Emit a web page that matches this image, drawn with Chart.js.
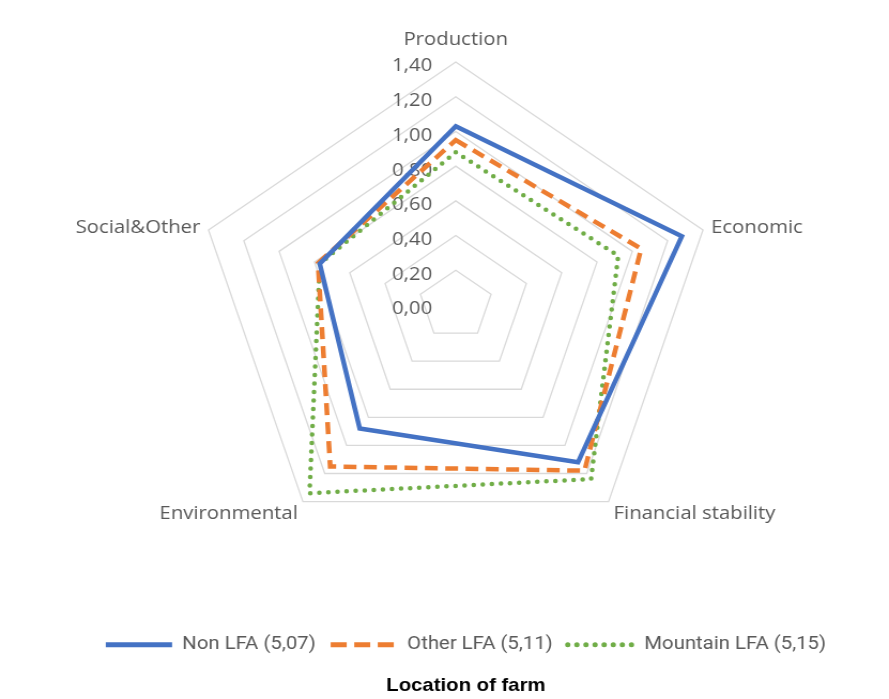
<!DOCTYPE html>
<html>
<head>
<meta charset="utf-8">
<script src="https://cdn.jsdelivr.net/npm/chart.js@4.4.1/dist/chart.umd.min.js"></script>
<style>
  html, body { margin: 0; padding: 0; background: #fff; }
  #myChart { display: block; }
</style>
</head>
<body>
<canvas id="myChart" width="831" height="699" style="width:889px;height:699px"></canvas>
<script>
// Data
var categories = ['Production', 'Economic', 'Financial stability', 'Environmental', 'Social&Other'];
var seriesNames = ['Non LFA (5,07)', 'Other LFA (5,11)', 'Mountain LFA (5,15)'];
var nonLFA = [1.03, 1.28, 1.12, 0.88, 0.77];
var otherLFA = [0.95, 1.05, 1.18, 1.15, 0.78];
var mountainLFA = [0.88, 0.92, 1.24, 1.34, 0.77];
var tickValues = [0, 0.2, 0.4, 0.6, 0.8, 1.0, 1.2, 1.4];

// canvas is drawn 831 wide and stretched to 889, like the original picture
var CX = 426, CY = 305, RADIUS = 243;
var textColor = '#595959';
var labelFont = '19px "Open Sans"';
// dash used for the legend samples (a bit longer than on the chart lines)
var legendDash = [[], [15, 7], [0, 8.5]];

// tick labels sit left of the vertical axis, like Excel does
var tickText = {
  id: 'tickText',
  beforeDatasetsDraw: function(chart) {
    var s = chart.scales.r;
    var ctx = chart.ctx;
    ctx.save();
    ctx.font = labelFont;
    ctx.fillStyle = textColor;
    ctx.textAlign = 'right';
    ctx.textBaseline = 'middle';
    tickValues.forEach(function(v) {
      var p = s.getPointPositionForValue(0, v);
      ctx.fillText(v.toFixed(2).replace('.', ','), p.x - 22, p.y + 4);
    });
    ctx.restore();
  },
  afterDraw: function(chart) {
    var s = chart.scales.r;
    var ctx = chart.ctx;
    ctx.save();
    ctx.font = labelFont;
    ctx.fillStyle = textColor;
    ctx.textBaseline = 'middle';
    categories.forEach(function(c, i) {
      var p = s.getPointPosition(i, s.drawingArea + 8);
      var dx = p.x - s.xCenter, dy = p.y - s.yCenter;
      ctx.textAlign = Math.abs(dx) < 1 ? 'center' : (dx > 0 ? 'left' : 'right');
      var y = p.y;
      if (dy < -s.drawingArea) y -= 14;
      else if (dy > 0) y += 6;
      ctx.fillText(c, p.x, y);
    });
    ctx.restore();
  }
};

var ctx = document.getElementById('myChart').getContext('2d');
var myChart = new Chart(ctx, {
  type: 'radar',
  data: {
    labels: categories,
    datasets: [
      {
        label: seriesNames[0],
        data: nonLFA,
        borderColor: '#4472C4',
        borderWidth: 4.5,
        borderJoinStyle: 'miter',
        fill: false
      },
      {
        label: seriesNames[1],
        data: otherLFA,
        borderColor: '#ED7D31',
        borderWidth: 4.5,
        borderDash: [12, 7],
        borderCapStyle: 'butt',
        fill: false
      },
      {
        label: seriesNames[2],
        data: mountainLFA,
        borderColor: '#70AD47',
        borderWidth: 4.5,
        borderDash: [0, 8.5],
        borderCapStyle: 'round',
        fill: false
      }
    ]
  },
  options: {
    responsive: false,
    animation: false,
    elements: {
      line: { tension: 0 },
      point: { radius: 0, hoverRadius: 0 }
    },
    layout: { padding: { left: 40, right: 0, top: 10, bottom: 0 } },
    scales: {
      r: {
        min: 0,
        max: 1.4,
        ticks: { stepSize: 0.2, display: false },
        grid: { color: '#D9D9D9', lineWidth: 1.3 },
        angleLines: { display: false },
        pointLabels: { display: false },
        afterFit: function(s) {
          s.xCenter = CX;
          s.yCenter = CY;
          s.drawingArea = RADIUS;
        }
      }
    },
    plugins: {
      legend: {
        position: 'bottom',
        labels: {
          usePointStyle: true,
          pointStyle: 'line',
          pointStyleWidth: 62,
          padding: 14,
          color: textColor,
          font: { family: 'Roboto', size: 19 },
          // point style legend items lose the dash, take it from the dataset
          generateLabels: function(chart) {
            var items = Chart.defaults.plugins.legend.labels.generateLabels(chart);
            items.forEach(function(it) {
              var ds = chart.data.datasets[it.datasetIndex];
              it.lineDash = legendDash[it.datasetIndex];
              it.lineCap = ds.borderCapStyle || 'butt';
              it.lineWidth = 5;
              it.strokeStyle = ds.borderColor;
            });
            return items;
          }
        }
      },
      title: {
        display: true,
        position: 'bottom',
        text: 'Location of farm',
        color: '#000',
        font: { family: 'Liberation Sans', size: 19, weight: 'bold' },
        padding: { top: 10, bottom: 2 }
      },
      tooltip: { enabled: false }
    }
  },
  plugins: [tickText]
});
</script>
</body>
</html>
